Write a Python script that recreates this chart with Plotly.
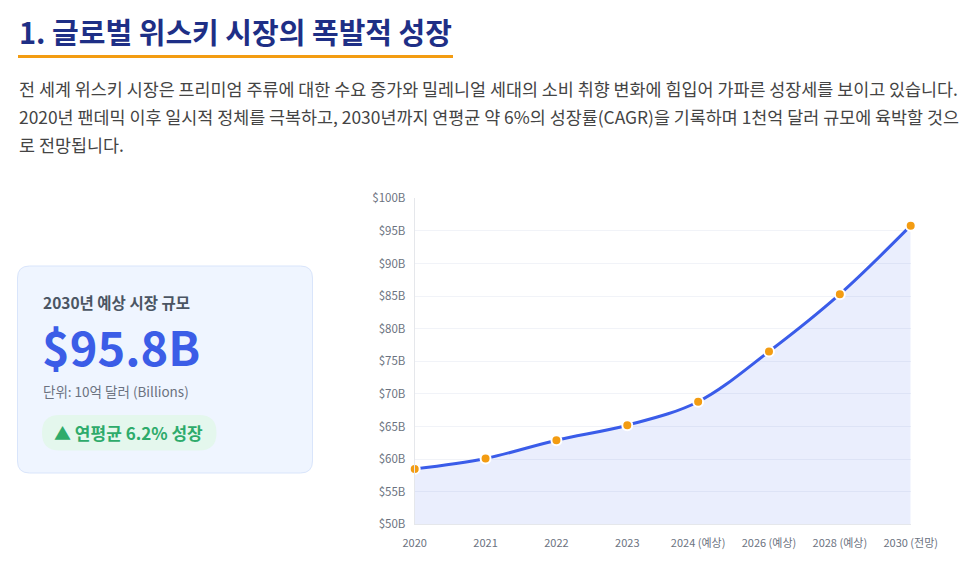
import plotly.graph_objects as go

# ---- data ----
categories = ["2020", "2021", "2022", "2023", "2024 (예상)", "2026 (예상)", "2028 (예상)", "2030 (전망)"]
market_values = [58.5, 60.1, 62.9, 65.2, 68.8, 76.5, 85.3, 95.8]
y_tick_vals = [50, 55, 60, 65, 70, 75, 80, 85, 90, 95, 100]
y_tick_text = ["$50B", "$55B", "$60B", "$65B", "$70B", "$75B", "$80B", "$85B", "$90B", "$95B", "$100B"]

title_text = "1. 글로벌 위스키 시장의 폭발적 성장"
para_lines = [
    "전 세계 위스키 시장은 프리미엄 주류에 대한 수요 증가와 밀레니얼 세대의 소비 취향 변화에 힘입어 가파른 성장세를 보이고 있습니다.",
    "2020년 팬데믹 이후 일시적 정체를 극복하고, 2030년까지 연평균 약 6%의 성장률(CAGR)을 기록하며 1천억 달러 규모에 육박할 것으",
    "로 전망됩니다.",
]
card_label = "2030년 예상 시장 규모"
card_value = "$95.8B"
card_unit = "단위: 10억 달러 (Billions)"
card_badge = "▲ 연평균 6.2% 성장"

OFF = 8                      # page body margin
W, H = 975 - 2 * OFF, 561 - 2 * OFF
FONT = "Noto Sans CJK KR"


def X(px):
    return (px - OFF) / W


def Y(py):
    return 1 - (py - OFF) / H


def rrect(x0, y0, x1, y1, r):
    rx, ry = r / W, r / H
    a, b, c, d = X(x0), X(x1), Y(y0), Y(y1)  # c top, d bottom
    return (f"M {a+rx},{c} L {b-rx},{c} Q {b},{c} {b},{c-ry} "
            f"L {b},{d+ry} Q {b},{d} {b-rx},{d} L {a+rx},{d} "
            f"Q {a},{d} {a},{d+ry} L {a},{c-ry} Q {a},{c} {a+rx},{c} Z")


fig = go.Figure()
fig.add_trace(go.Scatter(
    x=categories, y=market_values,
    mode="lines+markers",
    line=dict(color="#3a5ce9", width=3, shape="spline", smoothing=1),
    marker=dict(color="#f39c12", size=10, line=dict(color="white", width=2)),
    fill="tozeroy", fillcolor="rgba(67,97,238,0.11)",
    cliponaxis=False,
    showlegend=False,
))

shapes = [
    # title underline
    dict(type="line", xref="paper", yref="paper", x0=X(18), x1=X(453), y0=Y(56.5), y1=Y(56.5),
         line=dict(color="#f39c12", width=3)),
    # card
    dict(type="path", xref="paper", yref="paper", path=rrect(17.5, 266, 312.5, 473, 12),
         fillcolor="#eff5ff", line=dict(color="#d9e5fb", width=1), layer="below"),
    # badge pill
    dict(type="path", xref="paper", yref="paper", path=rrect(42, 415, 216.5, 450.5, 17.5),
         fillcolor="#e4f7ed", line=dict(width=0), layer="below"),
]

annotations = [
    dict(text=f"<b>{title_text}</b>", x=X(17), y=Y(31), xref="paper", yref="paper",
         xanchor="left", yanchor="middle", showarrow=False,
         font=dict(family=FONT, size=29, color="#1e2f86")),
    dict(text=f"<b>{card_label}</b>", x=X(41), y=Y(302), xref="paper", yref="paper",
         xanchor="left", yanchor="middle", showarrow=False,
         font=dict(family=FONT, size=15.5, color="#4b5563")),
    dict(text=f"<b>{card_value}</b>", x=X(40), y=Y(345), xref="paper", yref="paper",
         xanchor="left", yanchor="middle", showarrow=False,
         font=dict(family=FONT, size=47, color="#3b5de7")),
    dict(text=card_unit, x=X(41), y=Y(391), xref="paper", yref="paper",
         xanchor="left", yanchor="middle", showarrow=False,
         font=dict(family=FONT, size=13.5, color="#6b7280")),
    dict(text=f"<b>{card_badge}</b>", x=X(52), y=Y(432.5), xref="paper", yref="paper",
         xanchor="left", yanchor="middle", showarrow=False,
         font=dict(family=FONT, size=17, color="#2eab6b")),
]
for i, (line, yc) in enumerate(zip(para_lines, [88.5, 117, 144])):
    annotations.append(dict(text=line, x=X(17), y=Y(yc), xref="paper", yref="paper",
                            xanchor="left", yanchor="middle", showarrow=False,
                            font=dict(family=FONT, size=17.4, color="#444444")))

fig.update_layout(
    width=W, height=H,
    margin=dict(l=0, r=0, t=0, b=0, pad=0, autoexpand=False),
    paper_bgcolor="white", plot_bgcolor="white",
    font=dict(family=FONT, color="#6b7280"),
    shapes=shapes, annotations=annotations,
    xaxis=dict(domain=[X(414.7), X(910.7)], type="category", range=[0, 7],
               showgrid=False, zeroline=False, showline=True, linecolor="#e5e7eb", linewidth=1,
               ticks="", tickfont=dict(size=11, color="#6b7280"), ticklabelstandoff=8,
               automargin=False),
    yaxis=dict(domain=[Y(524.3), Y(198.3)], range=[50, 100],
               tickvals=y_tick_vals, ticktext=y_tick_text,
               showgrid=True, gridcolor="#f1f3f8", zeroline=False,
               showline=True, linecolor="#e5e7eb", linewidth=1,
               ticks="", tickfont=dict(size=11.5, color="#6b7280"), ticklabelstandoff=6,
               automargin=False),
)

fig.write_html("out.html")
